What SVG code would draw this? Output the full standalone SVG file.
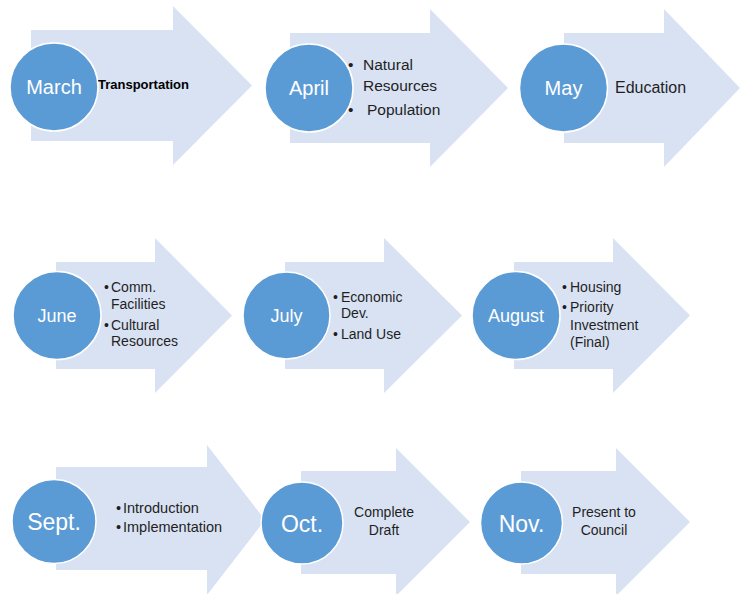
<svg xmlns="http://www.w3.org/2000/svg" width="741" height="594" viewBox="0 0 741 594">
<style>
.arr{fill:#D9E2F3;stroke:none}
.cir{fill:#5B9BD5;stroke:#ffffff;stroke-width:1.5}
.m{font-family:"Liberation Sans",Arial,sans-serif;fill:#ffffff;text-anchor:middle}
.t{font-family:"Liberation Sans",Arial,sans-serif;fill:#1f1f1f}
.tb{font-family:"Liberation Sans",Arial,sans-serif;fill:#000000;font-weight:bold}
</style>
<rect width="741" height="594" fill="#ffffff"/>
<g id="connectors"/>
<g id="march">
<polygon class="arr" points="31,30 173,30 173,6 252,85.5 173,165 173,141 31,141"/>
<circle class="cir" cx="54" cy="87" r="44"/>
<text class="m" x="54" y="94" font-size="20">March</text>
<text class="tb" x="98" y="89" font-size="13">Transportation</text>
</g>
<g id="april">
<polygon class="arr" points="290,33 430,33 430,9 508,88 430,167 430,143 290,143"/>
<circle class="cir" cx="309" cy="88" r="44"/>
<text class="m" x="309" y="95" font-size="20">April</text>
<g class="t" font-size="15.5">
<text x="348" y="70">•</text><text x="363" y="70">Natural</text>
<text x="363" y="91">Resources</text>
<text x="348" y="115">•</text><text x="367" y="115">Population</text>
</g>
</g>
<g id="may">
<polygon class="arr" points="564,33 664,33 664,9 740,88 664,167 664,143 564,143"/>
<circle class="cir" cx="563.5" cy="88" r="44"/>
<text class="m" x="563.5" y="95" font-size="20">May</text>
<text class="t" x="615" y="93" font-size="16">Education</text>
</g>
<g id="june">
<polygon class="arr" points="56,262 155,262 155,238 232,315.5 155,393 155,369 56,369"/>
<circle class="cir" cx="57" cy="315.5" r="44"/>
<text class="m" x="57" y="322" font-size="18">June</text>
<g class="t" font-size="14">
<text x="104" y="292">•</text><text x="111" y="292">Comm.</text>
<text x="111" y="309">Facilities</text>
<text x="104" y="330">•</text><text x="111" y="330">Cultural</text>
<text x="111" y="346">Resources</text>
</g>
</g>
<g id="july">
<polygon class="arr" points="285,262 384,262 384,238 462,315.5 384,393 384,369 285,369"/>
<circle class="cir" cx="286.5" cy="315.5" r="43.5"/>
<text class="m" x="286.5" y="322" font-size="18">July</text>
<g class="t" font-size="14">
<text x="333" y="302">•</text><text x="341" y="302">Economic</text>
<text x="341" y="318">Dev.</text>
<text x="333" y="339">•</text><text x="341" y="339">Land Use</text>
</g>
</g>
<g id="august">
<polygon class="arr" points="514,262 613,262 613,238 690,315.5 613,393 613,369 514,369"/>
<circle class="cir" cx="516" cy="315.5" r="44"/>
<text class="m" x="516" y="322" font-size="18">August</text>
<g class="t" font-size="14">
<text x="562" y="292">•</text><text x="570" y="292">Housing</text>
<text x="562" y="312">•</text><text x="570" y="312">Priority</text>
<text x="570" y="330">Investment</text>
<text x="570" y="347">(Final)</text>
</g>
</g>
<g id="sept">
<polygon class="arr" points="56,467 207,467 207,445 265,520 207,595 207,570 56,570"/>
<circle class="cir" cx="54" cy="521.5" r="42"/>
<text class="m" x="54" y="530" font-size="23">Sept.</text>
<g class="t" font-size="14.5">
<text x="116" y="513">•</text><text x="123" y="513">Introduction</text>
<text x="116" y="532">•</text><text x="123" y="532">Implementation</text>
</g>
</g>
<g id="oct">
<polygon class="arr" points="301,471 396,471 396,448 470,522 396,596 396,574 301,574"/>
<circle class="cir" cx="302" cy="523" r="41"/>
<text class="m" x="302" y="531.5" font-size="23">Oct.</text>
<g class="t" font-size="14" text-anchor="middle">
<text x="384" y="517">Complete</text>
<text x="384" y="535">Draft</text>
</g>
</g>
<g id="nov">
<polygon class="arr" points="521,471 616,471 616,448 690,522 616,596 616,574 521,574"/>
<circle class="cir" cx="521.5" cy="523" r="41"/>
<text class="m" x="521.5" y="531.5" font-size="23">Nov.</text>
<g class="t" font-size="14" text-anchor="middle">
<text x="604" y="517">Present to</text>
<text x="604" y="535">Council</text>
</g>
</g>
</svg>
